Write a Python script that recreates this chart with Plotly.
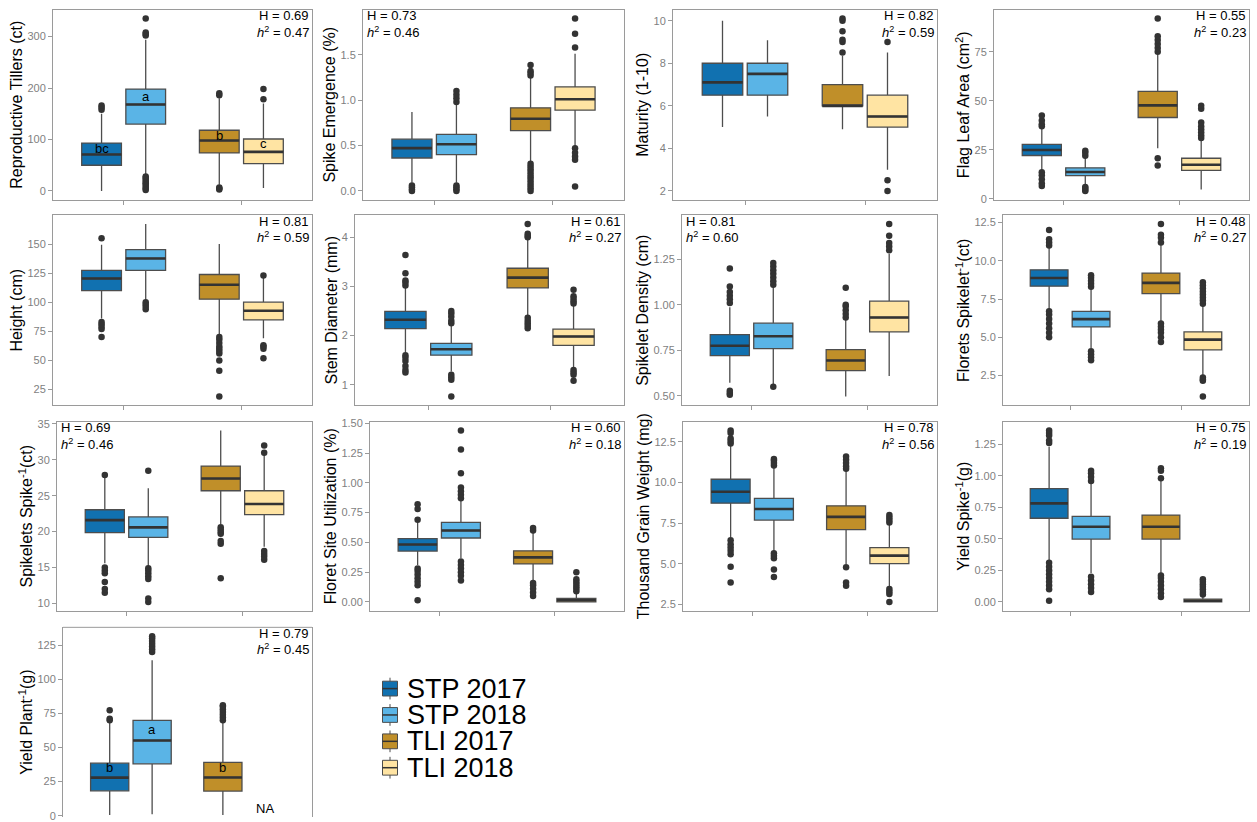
import plotly.graph_objects as go

W, H = 1257, 822
groups = ["STP 2017", "STP 2018", "TLI 2017", "TLI 2018"]
colors = ["#1171B0", "#5AB4E6", "#C08F29", "#FFE4A3"]
group_x = [1, 1, 2, 2]
dodge = [-0.1875, 0.1875, -0.1875, 0.1875]
box_w = 0.3375

# ---------------- data ----------------
# Reproductive Tillers
till_q1 = [50, 130, 74, 53]
till_med = [71, 168, 98, 76]
till_q3 = [93, 198, 118, 101]
till_lo = [0, 32, 12, 6]
till_hi = [150, 294, 180, 170]
till_out = [[158, 162, 166], [2, 5, 8, 12, 15, 18, 22, 25, 28, 302, 305, 308, 335], [3, 5, 7, 186, 190], [178, 198]]
till_letters = ["bc", "a", "b", "c"]
till_letter_y = [82, 183, 107, 93]
till_ticks = [0, 100, 200, 300]

# Spike Emergence
emer_q1 = [0.363, 0.40, 0.664, 0.889]
emer_med = [0.472, 0.515, 0.795, 1.009]
emer_q3 = [0.57, 0.624, 0.915, 1.147]
emer_lo = [0.09, 0.09, 0.31, 0.49]
emer_hi = [0.87, 0.96, 1.25, 1.51]
emer_out = [[0.0, 0.02, 0.04, 0.06], [0.0, 0.02, 0.04, 0.06, 0.98, 1.02, 1.06, 1.1],
            [0.0, 0.03, 0.06, 0.09, 0.12, 0.15, 0.18, 0.21, 0.24, 0.27, 0.30, 1.27, 1.30, 1.32, 1.387],
            [0.05, 0.345, 0.38, 0.42, 0.47, 1.579, 1.73, 1.898]]
emer_ticks = [0.0, 0.5, 1.0, 1.5]

# Maturity
mat_q1 = [6.5, 6.5, 6.0, 5.0]
mat_med = [7.1, 7.5, 6.0, 5.5]
mat_q3 = [8.0, 8.0, 7.0, 6.5]
mat_lo = [5.0, 5.5, 4.9, 3.0]
mat_hi = [10.0, 9.08, 8.35, 8.5]
mat_out = [[], [], [8.5, 9.0, 9.1, 9.5, 10.0, 10.1], [2.0, 2.5, 9.0]]
mat_ticks = [2, 4, 6, 8, 10]

# Flag Leaf Area
fla_q1 = [22.1, 11.8, 41.5, 14.5]
fla_med = [24.9, 13.7, 47.7, 17.4]
fla_q3 = [27.8, 15.8, 54.8, 20.7]
fla_lo = [14.8, 7.2, 25.8, 4.7]
fla_hi = [36.0, 21.6, 73.8, 30.5]
fla_out = [[6.5, 8, 10, 12, 13.5, 37, 38, 40, 42.5], [4.0, 4.5, 5.5, 6.0, 22, 23.5, 24.5],
           [17, 20.7, 75, 77, 79, 81, 83, 92], [31, 32.5, 34, 35.5, 37, 39, 46, 47.5]]
fla_ticks = [0, 25, 50, 75]

# Height
ht_q1 = [110, 127.4, 102.6, 84.8]
ht_med = [120.4, 137.6, 115, 92.7]
ht_q3 = [127.4, 145.2, 123.8, 100]
ht_lo = [86, 101.5, 71.8, 69]
ht_hi = [149.4, 167.2, 150, 121]
ht_out = [[70, 77, 79, 81, 83, 155], [94, 96, 98, 100], [19, 41, 50, 56, 58, 60, 62, 65, 68, 70], [51.8, 60, 62, 63, 123]]
ht_ticks = [25, 50, 75, 100, 125, 150]

# Stem Diameter
sd_q1 = [2.14, 1.60, 2.97, 1.80]
sd_med = [2.32, 1.72, 3.18, 1.98]
sd_q3 = [2.49, 1.84, 3.37, 2.13]
sd_lo = [1.66, 1.27, 2.40, 1.33]
sd_hi = [2.99, 2.23, 3.95, 2.62]
sd_out = [[1.25, 1.3, 1.38, 1.48, 1.55, 1.6, 3.02, 3.08, 3.12, 3.27, 3.64], [0.76, 1.1, 1.15, 1.2, 2.25, 2.3, 2.38, 2.45, 2.5],
          [2.15, 2.2, 2.25, 2.3, 2.36, 4.0, 4.03, 4.07, 4.27], [1.08, 1.2, 1.25, 1.3, 2.65, 2.7, 2.75, 2.8, 2.93]]
sd_ticks = [1, 2, 3, 4]

# Spikelet Density
dens_q1 = [0.721, 0.759, 0.638, 0.851]
dens_med = [0.775, 0.827, 0.694, 0.93]
dens_q3 = [0.836, 0.899, 0.754, 1.02]
dens_lo = [0.572, 0.56, 0.496, 0.608]
dens_hi = [0.986, 1.10, 0.92, 1.28]
dens_out = [[0.505, 0.515, 0.527, 1.01, 1.03, 1.05, 1.07, 1.10, 1.20], [0.549, 1.11, 1.13, 1.15, 1.17, 1.19, 1.21, 1.23],
            [0.93, 0.95, 0.97, 0.99, 1.0, 1.094], [1.3, 1.32, 1.34, 1.38, 1.444]]
dens_ticks = [0.50, 0.75, 1.00, 1.25]

# Florets Spikelet-1
flor_q1 = [8.34, 5.68, 7.85, 4.18]
flor_med = [8.88, 6.19, 8.56, 4.85]
flor_q3 = [9.41, 6.70, 9.20, 5.36]
flor_lo = [6.85, 4.29, 6.0, 2.48]
flor_hi = [10.9, 8.24, 11.1, 7.17]
flor_out = [[5.0, 5.3, 5.6, 5.9, 6.2, 6.5, 6.7, 11.0, 11.2, 11.4, 12.01], [3.5, 3.7, 3.9, 4.1, 8.3, 8.5, 8.7, 8.9, 9.05],
            [4.7, 5.0, 5.3, 5.5, 5.7, 5.9, 11.2, 11.5, 11.7, 12.4], [1.14, 2.16, 2.25, 2.37, 7.2, 7.4, 7.6, 7.8, 8.0, 8.2, 8.4, 8.6]]
flor_ticks = [2.5, 5.0, 7.5, 10.0, 12.5]

# Spikelets Spike-1
spk_q1 = [19.86, 19.2, 25.7, 22.36]
spk_med = [21.6, 20.6, 27.4, 23.86]
spk_q3 = [23.05, 22.05, 29.14, 25.7]
spk_lo = [15.6, 15.1, 21.05, 17.9]
spk_hi = [27.5, 26.05, 34.1, 30.7]
spk_out = [[11.5, 12.0, 13.0, 14.2, 14.6, 15.0, 27.9], [10.2, 10.7, 13.4, 13.8, 14.2, 14.6, 14.9, 28.5],
           [13.5, 18.3, 18.7, 19.7, 20.0, 20.3, 20.6], [16.1, 16.5, 16.9, 17.3, 31.0, 32.0]]
spk_ticks = [10, 15, 20, 25, 30, 35]

# Floret Site Utilization
fsu_q1 = [0.427, 0.537, 0.319, 0.0]
fsu_med = [0.482, 0.60, 0.374, 0.014]
fsu_q3 = [0.531, 0.669, 0.429, 0.03]
fsu_lo = [0.31, 0.366, 0.173, 0.0]
fsu_hi = [0.68, 0.848, 0.585, 0.077]
fsu_out = [[0.014, 0.14, 0.17, 0.2, 0.23, 0.26, 0.28, 0.69, 0.78, 0.82], [0.18, 0.22, 0.25, 0.28, 0.31, 0.34, 0.87, 0.9, 0.93, 0.96, 1.08, 1.28, 1.44],
           [0.05, 0.08, 0.11, 0.14, 0.16, 0.6, 0.62], [0.09, 0.11, 0.13, 0.15, 0.17, 0.19, 0.25]]
fsu_ticks = [0.0, 0.25, 0.5, 0.75, 1.0, 1.25, 1.5]

# Thousand Grain Weight
tgw_q1 = [8.73, 7.69, 7.11, 5.02]
tgw_med = [9.43, 8.37, 7.89, 5.51]
tgw_q3 = [10.2, 9.03, 8.57, 6.0]
tgw_lo = [6.63, 5.73, 5.0, 3.46]
tgw_hi = [12.3, 11.0, 10.74, 7.5]
tgw_out = [[3.86, 4.82, 5.6, 5.8, 6.0, 6.2, 6.45, 12.4, 12.55, 12.7, 13.05, 13.2], [4.2, 4.65, 5.35, 5.5, 5.65, 11.05, 11.2, 11.35, 11.45],
           [3.65, 3.85, 4.8, 10.85, 11.0, 11.2, 11.4, 11.6], [2.66, 3.15, 3.3, 3.45, 7.55, 7.7, 7.85, 8.0]]
tgw_ticks = [2.5, 5.0, 7.5, 10.0, 12.5]

# Yield Spike-1
ysp_q1 = [0.664, 0.499, 0.499, 0.0]
ysp_med = [0.782, 0.597, 0.597, 0.01]
ysp_q3 = [0.898, 0.679, 0.689, 0.023]
ysp_lo = [0.332, 0.229, 0.229, 0.0]
ysp_hi = [1.23, 0.94, 0.975, 0.05]
ysp_out = [[0.01, 0.1, 0.13, 0.16, 0.19, 0.22, 0.25, 0.28, 0.31, 1.26, 1.28, 1.32, 1.34, 1.36], [0.08, 0.11, 0.14, 0.17, 0.2, 0.96, 0.99, 1.02, 1.04],
           [0.04, 0.07, 0.1, 0.13, 0.16, 0.19, 0.21, 0.98, 1.04, 1.06], [0.06, 0.08, 0.1, 0.12, 0.14, 0.16, 0.18]]
ysp_ticks = [0.0, 0.25, 0.5, 0.75, 1.0, 1.25]

# Yield Plant-1 (TLI 2018 not available)
ypl_q1 = [18.2, 38, 18, None]
ypl_med = [27.9, 55.1, 28, None]
ypl_q3 = [38.5, 69.9, 39, None]
ypl_lo = [0.5, 1, 0.5, None]
ypl_hi = [68, 114, 69, None]
ypl_out = [[70, 71, 77.3], [120, 122, 124, 126, 128, 130, 131.5], [70, 72, 74, 76, 78, 80, 81], []]
ypl_letters = ["b", "a", "b", "NA"]
ypl_letter_y = [35, 63.5, 35.5, 5]
ypl_ticks = [0, 25, 50, 75, 100, 125]

H_vals = ["0.69", "0.73", "0.82", "0.55", "0.81", "0.61", "0.81", "0.48", "0.69", "0.60", "0.78", "0.75", "0.79"]
h2_vals = ["0.47", "0.46", "0.59", "0.23", "0.59", "0.27", "0.60", "0.27", "0.46", "0.18", "0.56", "0.19", "0.45"]
stat_corner = ["right", "left", "right", "right", "right", "right", "left", "right", "left", "right", "right", "right", "right"]

titles = ["Reproductive Tillers (ct)", "Spike Emergence (%)", "Maturity (1-10)", "Flag Leaf Area (cm<sup>2</sup>)",
          "Height (cm)", "Stem Diameter (mm)", "Spikelet Density (cm)", "Florets Spikelet<sup>-1</sup>(ct)",
          "Spikelets Spike<sup>-1</sup>(ct)", "Floret Site Utilization (%)", "Thousand Grain Weight (mg)",
          "Yield Spike<sup>-1</sup>(g)", "Yield Plant<sup>-1</sup>(g)"]

# panel frames in pixels (x0, x1, y0, y1); the last panel runs past the page bottom
frames = [(53, 312, 5, 197), (363, 624, 5, 197), (673, 937, 5, 197), (994, 1249, 5, 197),
          (53, 312, 213, 405), (355, 624, 213, 405), (682, 937, 213, 405), (1003, 1249, 213, 405),
          (57, 312, 422, 613), (370, 624, 422, 613), (683, 937, 422, 613), (1003, 1249, 422, 613),
          (63, 312, 630, 829)]
tick_fmt = ["{:.0f}", "{:.1f}", "{:.0f}", "{:.0f}", "{:.0f}", "{:.0f}", "{:.2f}", "{:.1f}", "{:.0f}", "{:.2f}", "{:.1f}", "{:.2f}", "{:.0f}"]

stats = [
    (till_q1, till_med, till_q3, till_lo, till_hi, till_out, till_ticks),
    (emer_q1, emer_med, emer_q3, emer_lo, emer_hi, emer_out, emer_ticks),
    (mat_q1, mat_med, mat_q3, mat_lo, mat_hi, mat_out, mat_ticks),
    (fla_q1, fla_med, fla_q3, fla_lo, fla_hi, fla_out, fla_ticks),
    (ht_q1, ht_med, ht_q3, ht_lo, ht_hi, ht_out, ht_ticks),
    (sd_q1, sd_med, sd_q3, sd_lo, sd_hi, sd_out, sd_ticks),
    (dens_q1, dens_med, dens_q3, dens_lo, dens_hi, dens_out, dens_ticks),
    (flor_q1, flor_med, flor_q3, flor_lo, flor_hi, flor_out, flor_ticks),
    (spk_q1, spk_med, spk_q3, spk_lo, spk_hi, spk_out, spk_ticks),
    (fsu_q1, fsu_med, fsu_q3, fsu_lo, fsu_hi, fsu_out, fsu_ticks),
    (tgw_q1, tgw_med, tgw_q3, tgw_lo, tgw_hi, tgw_out, tgw_ticks),
    (ysp_q1, ysp_med, ysp_q3, ysp_lo, ysp_hi, ysp_out, ysp_ticks),
    (ypl_q1, ypl_med, ypl_q3, ypl_lo, ypl_hi, ypl_out, ypl_ticks),
]
letters = {0: (till_letters, till_letter_y), 12: (ypl_letters, ypl_letter_y)}

LINE = "#4d4d4d"
MED = "#333333"
FRAME = "#9a9a9a"
FONT = "Liberation Sans, Arial, sans-serif"

fig = go.Figure()
layout = dict(width=W, height=H, margin=dict(l=0, r=0, t=0, b=0),
              paper_bgcolor="white", plot_bgcolor="white", showlegend=False,
              font=dict(family=FONT), annotations=[], shapes=[])

for i, (q1, med, q3, lo, hi, outs, ticks) in enumerate(stats):
    n = "" if i == 0 else str(i + 1)
    xr, yr = "x" + n, "y" + n
    x0, x1, y0, y1 = frames[i]
    vals = []
    for g in range(4):
        if q1[g] is None:
            continue
        xc = group_x[g] + dodge[g]
        fig.add_trace(go.Box(x=[xc], q1=[q1[g]], median=[med[g]], q3=[q3[g]],
                             lowerfence=[lo[g]], upperfence=[hi[g]], width=box_w,
                             fillcolor=colors[g], line=dict(color=LINE, width=1.3),
                             whiskerwidth=0, boxpoints=False, name=groups[g],
                             xaxis=xr, yaxis=yr, showlegend=False, hoverinfo="skip"))
        fig.add_trace(go.Scatter(x=[xc - box_w / 2, xc + box_w / 2], y=[med[g], med[g]], mode="lines",
                                 line=dict(color=MED, width=2.6), xaxis=xr, yaxis=yr,
                                 showlegend=False, hoverinfo="skip"))
        if outs[g]:
            fig.add_trace(go.Scatter(x=[xc] * len(outs[g]), y=outs[g], mode="markers",
                                     marker=dict(color=MED, size=6.5), xaxis=xr, yaxis=yr,
                                     showlegend=False, hoverinfo="skip"))
        vals += [lo[g], hi[g]] + list(outs[g])
    vmin, vmax = min(vals), max(vals)
    pad = 0.05 * (vmax - vmin)
    rlo, rhi = vmin - pad, vmax + pad
    cut = y1 > H
    if cut:  # panel cut off by the page bottom
        rlo = rlo + (y1 - H) / (y1 - y0) * (rhi - rlo)
        y1 = H
    layout["xaxis" + n] = dict(domain=[x0 / W, x1 / W], anchor=yr, range=[0.4, 2.6],
                               tickvals=[1, 2], ticktext=["", ""], ticks="" if cut else "outside", ticklen=4,
                               tickcolor=FRAME, showline=not cut, mirror=True, linecolor=FRAME,
                               linewidth=1, showgrid=False, zeroline=False)
    layout["yaxis" + n] = dict(domain=[1 - y1 / H, 1 - y0 / H], anchor=xr, range=[rlo, rhi],
                               tickvals=ticks, ticktext=[tick_fmt[i].format(t) for t in ticks],
                               ticks="outside", ticklen=4, tickcolor=FRAME,
                               tickfont=dict(size=11, color="#7f7f7f", family=FONT),
                               showline=True, mirror=True, linecolor=FRAME, linewidth=1,
                               showgrid=False, zeroline=False,
                               title=dict(text=titles[i], font=dict(size=16, color="black", family=FONT), standoff=0))
    if cut:
        layout["shapes"].append(dict(type="line", xref=xr + " domain", yref=yr + " domain",
                                     x0=0, x1=1, y0=1, y1=1, line=dict(color=FRAME, width=1)))
    right = stat_corner[i] == "right"
    for txt, dy in (("H = " + H_vals[i], -6), ("<i>h</i><sup>2</sup> = " + h2_vals[i], -22)):
        layout["annotations"].append(dict(
            text=txt, xref=xr + " domain", yref=yr + " domain", x=1 if right else 0, y=1,
            xanchor="right" if right else "left", yanchor="middle",
            xshift=-1 if right else 2, yshift=dy, showarrow=False,
            font=dict(size=13, color="black", family=FONT)))
    if i in letters:
        labs, ly = letters[i]
        for g in range(4):
            layout["annotations"].append(dict(text=labs[g], x=group_x[g] + dodge[g], y=ly[g],
                                              xref=xr, yref=yr, showarrow=False,
                                              font=dict(size=13, color="black", family=FONT)))

# manual legend (ggplot-like boxplot key glyphs)
leg_cx, leg_cy0, half, step = 390, 692, 7.5, 26.7
for g in range(4):
    cy = leg_cy0 + g * step
    layout["shapes"].append(dict(type="line", xref="paper", yref="paper", x0=leg_cx / W, x1=leg_cx / W,
                                 y0=1 - (cy - 11) / H, y1=1 - (cy + 11) / H, line=dict(color=LINE, width=1)))
    layout["shapes"].append(dict(type="rect", xref="paper", yref="paper",
                                 x0=(leg_cx - half) / W, x1=(leg_cx + half) / W,
                                 y0=1 - (cy + half) / H, y1=1 - (cy - half) / H,
                                 fillcolor=colors[g], line=dict(color=LINE, width=1)))
    layout["shapes"].append(dict(type="line", xref="paper", yref="paper",
                                 x0=(leg_cx - half) / W, x1=(leg_cx + half) / W,
                                 y0=1 - cy / H, y1=1 - cy / H, line=dict(color=MED, width=1.5)))
    layout["annotations"].append(dict(text=groups[g], xref="paper", yref="paper",
                                      x=405 / W, y=1 - cy / H, xanchor="left", yanchor="middle",
                                      showarrow=False, font=dict(size=27, color="black", family=FONT)))

fig.update_layout(**layout)
fig.write_html("out.html")
